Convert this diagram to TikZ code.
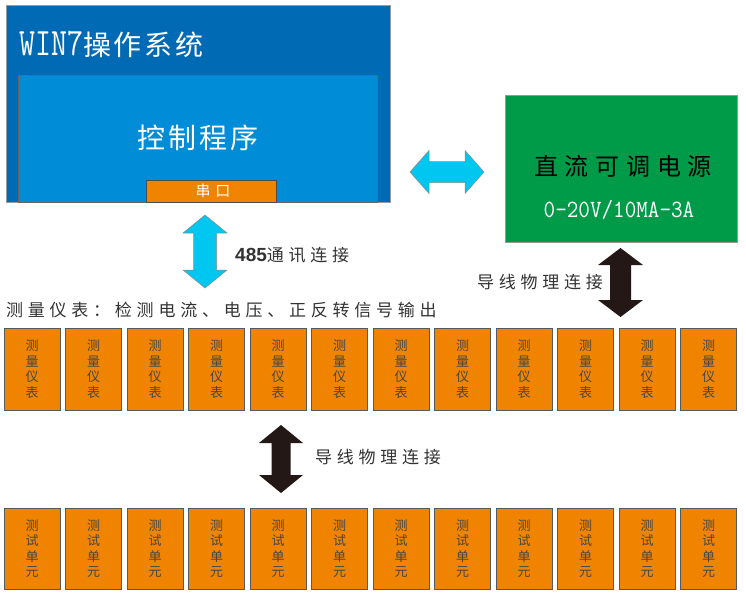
\documentclass[tikz,border=0pt]{standalone}
\usepackage{fontspec}
\usepackage{graphicx}
\setmainfont{Noto Sans CJK SC}
\newfontfamily\cjk{Noto Sans CJK SC}
\newfontfamily\cjkwide[LetterSpace=28]{Noto Sans CJK SC}
\newfontfamily\cjkmid[LetterSpace=10]{Noto Sans CJK SC}
\newfontfamily\cjkser[LetterSpace=33]{Noto Sans CJK SC}
\newfontfamily\digitf{Liberation Sans}
\newcommand{\monof}{\ttfamily}
\definecolor{outerblue}{HTML}{006AB4}
\definecolor{innerblue}{HTML}{008CD6}
\definecolor{boxorange}{HTML}{F08300}
\definecolor{psgreen}{HTML}{009B48}
\definecolor{arrcyan}{HTML}{00C6F0}
\definecolor{arrblack}{HTML}{231815}
\definecolor{labelgray}{HTML}{333333}
\newcommand{\vdarrow}[7][]{%
  \path[#1] (#2,#3) -- (#2+#5,#3+#7) -- (#2+#6,#3+#7) -- (#2+#6,#4-#7) -- (#2+#5,#4-#7)
    -- (#2,#4) -- (#2-#5,#4-#7) -- (#2-#6,#4-#7) -- (#2-#6,#3+#7) -- (#2-#5,#3+#7) -- cycle;}
\newcommand{\hdarrow}[7][]{%
  \path[#1] (#3,#2) -- (#3+#7,#2-#5) -- (#3+#7,#2-#6) -- (#4-#7,#2-#6) -- (#4-#7,#2-#5)
    -- (#4,#2) -- (#4-#7,#2+#5) -- (#4-#7,#2+#6) -- (#3+#7,#2+#6) -- (#3+#7,#2+#5) -- cycle;}
\tikzset{
  box/.style={draw, inner sep=0pt, outer sep=0pt, anchor=north west},
  unitbox/.style={box, draw=black!65, fill=boxorange, minimum width=56pt, line width=0.6pt},
  unittext/.style={align=center, inner sep=0pt, text=black!72, font=\cjk\fontsize{13}{15.5}\selectfont},
  label/.style={anchor=west, inner sep=0pt, text=labelgray, font=\cjkwide\fontsize{17}{17}\selectfont},
  cyanarrow/.style={fill=arrcyan, draw=black!45, line width=0.5pt},
  blackarrow/.style={fill=arrblack},
}
\begin{document}
\begin{tikzpicture}[x=1pt, y=-1pt]
\useasboundingbox[fill=white] (0,0) rectangle (746,597);
% computer
\node[box, draw=black!40, fill=outerblue, minimum width=384pt, minimum height=197pt] (win) at (6,5) {};
\node[box, draw=black!60, fill=innerblue, minimum width=359pt, minimum height=127pt] (prog) at (18,75) {};
\node[box, draw=black!70, fill=boxorange, minimum width=130pt, minimum height=22pt] (com) at (146,180) {};
\node[anchor=west, inner sep=0pt, text=white] (wintxt) at (19,45)
  {\scalebox{1}[1.25]{\monof\fontsize{31}{31}\selectfont WIN7}\cjkmid\fontsize{28}{28}\selectfont 操作系统};
\node[inner sep=0pt, text=white, font=\cjkmid\fontsize{28}{28}\selectfont] (progtxt) at (198,138) {控制程序};
\node[inner sep=0pt, text=white, font=\cjkser\fontsize{15}{15}\selectfont] (comtxt) at (213,191) {串口};
% power supply
\node[box, draw=black!40, fill=psgreen, minimum width=232pt, minimum height=147pt] (ps) at (505,95) {};
\node[inner sep=0pt, text=black, font=\cjkwide\fontsize{24}{24}\selectfont] (pstxt) at (623,166) {直流可调电源};
\node[inner sep=0pt, text=white] (psval) at (619,210) {\scalebox{1}[1.1]{\monof\fontsize{22.5}{22.5}\selectfont 0-20V/10MA-3A}};
% arrows
\hdarrow[cyanarrow]{172}{410}{484}{21.5}{10.5}{19}
\vdarrow[cyanarrow]{205}{215}{288}{22}{11.5}{18}
\vdarrow[blackarrow]{620.5}{248}{317}{22.5}{10.5}{17}
\vdarrow[blackarrow]{281}{425}{493}{22}{9.5}{18}
% labels
\node[anchor=west, inner sep=0pt, text=labelgray] (l485) at (235,255)
  {\digitf\bfseries\fontsize{19}{19}\selectfont 485\cjkwide\mdseries\fontsize{17}{17}\selectfont 通讯连接};
\node[label] (lmeter) at (6,310) {测量仪表：检测电流、电压、正反转信号输出};
\node[label] (lwire1) at (477,282) {导线物理连接};
\node[label] (lwire2) at (315,457) {导线物理连接};
% meters and test units
\foreach \i in {0,...,11} {
  \node[unitbox, minimum height=82pt] (m\i) at ({4+61.5*\i},328) {};
  \node[unittext] at (m\i.center) {测\\量\\仪\\表};
  \node[unitbox, minimum height=81pt] (t\i) at ({4+61.5*\i},508) {};
  \node[unittext] at (t\i.center) {测\\试\\单\\元};
}
\end{tikzpicture}
\end{document}
